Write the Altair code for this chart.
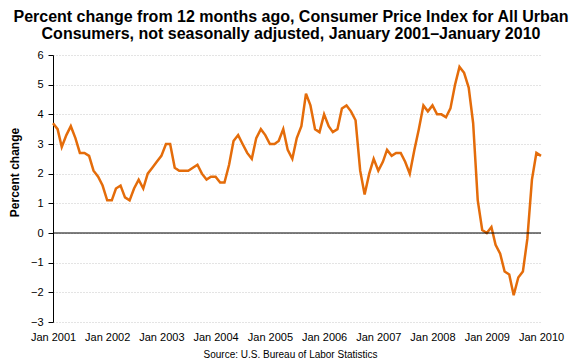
import altair as alt
import pandas as pd

values = [
    3.7, 3.5, 2.9, 3.3, 3.6, 3.2, 2.7, 2.7, 2.6, 2.1, 1.9, 1.6,   # 2001
    1.1, 1.1, 1.5, 1.6, 1.2, 1.1, 1.5, 1.8, 1.5, 2.0, 2.2, 2.4,   # 2002
    2.6, 3.0, 3.0, 2.2, 2.1, 2.1, 2.1, 2.2, 2.3, 2.0, 1.8, 1.9,   # 2003
    1.9, 1.7, 1.7, 2.3, 3.1, 3.3, 3.0, 2.7, 2.5, 3.2, 3.5, 3.3,   # 2004
    3.0, 3.0, 3.1, 3.5, 2.8, 2.5, 3.2, 3.6, 4.7, 4.3, 3.5, 3.4,   # 2005
    4.0, 3.6, 3.4, 3.5, 4.2, 4.3, 4.1, 3.8, 2.1, 1.3, 2.0, 2.5,   # 2006
    2.1, 2.4, 2.8, 2.6, 2.7, 2.7, 2.4, 2.0, 2.8, 3.5, 4.3, 4.1,   # 2007
    4.3, 4.0, 4.0, 3.9, 4.2, 5.0, 5.6, 5.4, 4.9, 3.7, 1.1, 0.1,   # 2008
    0.0, 0.2, -0.4, -0.7, -1.3, -1.4, -2.1, -1.5, -1.3, -0.2, 1.8, 2.7,  # 2009
    2.6,                                                          # 2010
]
start_month = "2001-01-01"
tick_years = list(range(2001, 2011))
y_ticks = [-3, -2, -1, 0, 1, 2, 3, 4, 5, 6]

df = pd.DataFrame({
    "date": pd.date_range(start_month, periods=len(values), freq="MS"),
    "pct": values,
})
zero_df = pd.DataFrame({"pct": [0]})

FONT = "Liberation Sans"
tick_dates = [alt.DateTime(year=y, month=1, date=1) for y in tick_years]
y_scale = alt.Scale(domain=[-3, 6], nice=False, zero=False)

x_enc = alt.X(
    "date:T",
    scale=alt.Scale(domain=[alt.DateTime(year=2001, month=1, date=1),
                            alt.DateTime(year=2010, month=1, date=1)]),
    axis=alt.Axis(
        values=tick_dates, format="%b %Y", labelFont=FONT, labelFontSize=11,
        labelColor="#000000", ticks=False, domain=False, grid=False,
        labelPadding=9, labelOverlap=False, labelFlush=False,
        title="Source: U.S. Bureau of Labor Statistics", titleFont=FONT,
        titleFontSize=10, titleFontWeight="normal", titleColor="#000000",
        titleX=237, titleY=35, titleBaseline="alphabetic",
    ),
)

y_axis = alt.Axis(
    values=y_ticks, labelFont=FONT, labelFontSize=11,
    labelColor="#000000", labelOverlap=False, labelFlush=False,
    tickColor="#000000", tickSize=5, domainColor="#000000", domainWidth=1,
    grid=True, gridColor="#c8c8c8", gridDash=[1, 2], gridWidth=1,
    labelPadding=5,
    title="Percent change", titleFont=FONT, titleFontSize=12,
    titleFontWeight="bold", titleColor="#000000", titleX=-32, titleY=117,
)
y_enc = alt.Y("pct:Q", scale=y_scale, axis=y_axis)

line = alt.Chart(df).mark_line(color="#E46C0A", strokeWidth=2.5).encode(x=x_enc, y=y_enc)
zero = alt.Chart(zero_df).mark_rule(color="#000000", strokeWidth=1).encode(y=y_enc)

chart = alt.layer(line, zero).properties(
    width=488,
    height=267,
    autosize=alt.AutoSizeParams(type="none"),
    padding={"left": 45, "top": 47, "right": 31, "bottom": 38},
    title=alt.TitleParams(
        text=["Percent change from 12 months ago, Consumer Price Index for All Urban",
              "Consumers, not seasonally adjusted, January 2001\u2013January 2010"],
        font=FONT, fontSize=16, fontWeight="bold", color="#000000",
        anchor="middle", dx=-6, offset=7, lineHeight=17,
    ),
).configure_view(stroke=None)

chart.save("out.html", embed_options={"renderer": "svg", "actions": False})
